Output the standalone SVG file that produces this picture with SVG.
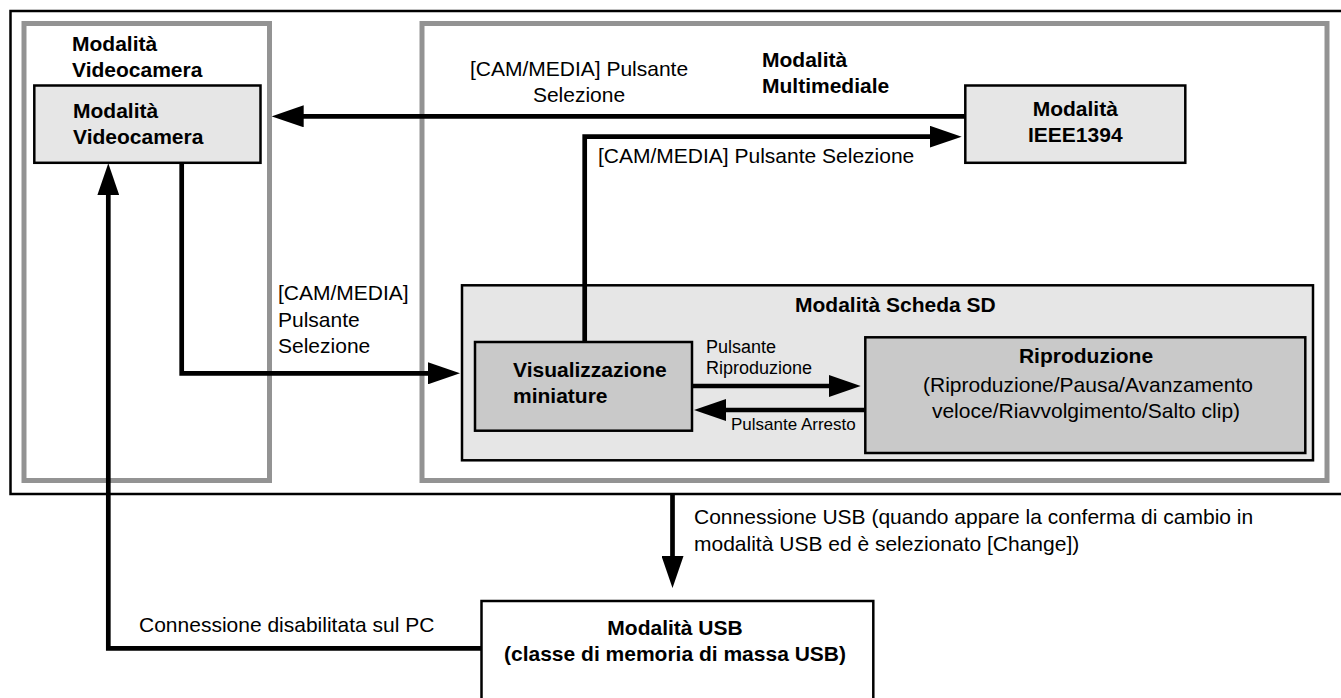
<svg xmlns="http://www.w3.org/2000/svg" width="1341" height="698" viewBox="0 0 1341 698">
<style>
text{font-family:"Liberation Sans",Arial,Helvetica,sans-serif;fill:#000;font-size:21px}
.b{font-weight:bold}
.s{font-size:18px}
.s2{font-size:17px}
.m{text-anchor:middle}
.frame{fill:none;stroke:#000;stroke-width:2.5}
.gray{fill:none;stroke:#939393;stroke-width:5}
.light{fill:#e6e6e6;stroke:#000;stroke-width:2.5}
.dark{fill:#c9c9c9;stroke:#000;stroke-width:2.5}
.white{fill:#fff;stroke:#000;stroke-width:2.5}
.c{fill:none;stroke:#000;stroke-width:4.7;marker-end:url(#ah)}
</style>
<defs>
<marker id="ah" markerUnits="userSpaceOnUse" markerWidth="32" markerHeight="22" refX="12" refY="11" orient="auto" viewBox="0 0 32 22">
<path d="M0,0 L32,11 L0,22 z" fill="#000"/>
</marker>
</defs>
<rect width="1341" height="698" fill="#fff"/>
<g id="outer-frame"><rect class="frame" x="10.5" y="11" width="1340" height="483"/></g>
<g id="group-videocamera">
<rect class="gray" x="24" y="23.5" width="245.5" height="457"/>
<text class="b" x="72" y="51">Modalità</text>
<text class="b" x="72" y="77">Videocamera</text>
</g>
<g id="group-multimediale">
<rect class="gray" x="422" y="23.5" width="905" height="457"/>
<text class="b" x="762" y="67">Modalità</text>
<text class="b" x="762" y="93">Multimediale</text>
</g>
<g id="node-videocamera">
<rect class="light" x="34.3" y="85.5" width="226.2" height="77.3"/>
<text class="b" x="73" y="117.5">Modalità</text>
<text class="b" x="73" y="143.5">Videocamera</text>
</g>
<g id="node-ieee1394">
<rect class="light" x="965.3" y="85.5" width="220" height="77.3"/>
<text class="b m" x="1075.3" y="116">Modalità</text>
<text class="b m" x="1075.3" y="142">IEEE1394</text>
</g>
<g id="group-sd">
<rect class="light" x="462" y="285.3" width="851" height="175"/>
<text class="b" x="795" y="311.5">Modalità Scheda SD</text>
</g>
<g id="node-miniature">
<rect class="dark" x="475" y="342" width="217" height="88.7"/>
<text class="b" x="513" y="377">Visualizzazione</text>
<text class="b" x="513" y="403">miniature</text>
</g>
<g id="node-riproduzione">
<rect class="dark" x="865.3" y="337.3" width="440" height="115.7"/>
<text class="b m" x="1086" y="362.5">Riproduzione</text>
<text class="m" x="1088" y="391.5">(Riproduzione/Pausa/Avanzamento</text>
<text class="m" x="1086" y="418">veloce/Riavvolgimento/Salto clip)</text>
</g>
<g id="node-usb">
<rect class="white" x="481.5" y="601" width="391.8" height="110"/>
<text class="b m" x="675" y="635">Modalità USB</text>
<text class="b m" x="675" y="661">(classe di memoria di massa USB)</text>
</g>
<g id="connectors">
<path class="c" d="M965 116.3 H291.7"/>
<path class="c" d="M584.7 342 V136.7 H941.7"/>
<path class="c" d="M181.7 163 V373.3 H440"/>
<path class="c" d="M692 386 H840.7"/>
<path class="c" d="M865.3 410 H714"/>
<path class="c" d="M672.5 495 V568"/>
<path class="c" d="M481.5 648.3 H108.3 V183.3"/>
<text x="579" y="76" class="m">[CAM/MEDIA] Pulsante</text>
<text x="579" y="101.5" class="m">Selezione</text>
<text x="598" y="162.5">[CAM/MEDIA] Pulsante Selezione</text>
<text x="278" y="300">[CAM/MEDIA]</text>
<text x="278" y="326.5">Pulsante</text>
<text x="278" y="353">Selezione</text>
<text class="s" x="706" y="353">Pulsante</text>
<text class="s" x="706" y="374">Riproduzione</text>
<text class="s2" x="731" y="430">Pulsante Arresto</text>
<text x="694" y="524">Connessione USB (quando appare la conferma di cambio in</text>
<text x="694" y="551">modalità USB ed è selezionato [Change])</text>
<text x="139" y="632">Connessione disabilitata sul PC</text>
</g>
</svg>
